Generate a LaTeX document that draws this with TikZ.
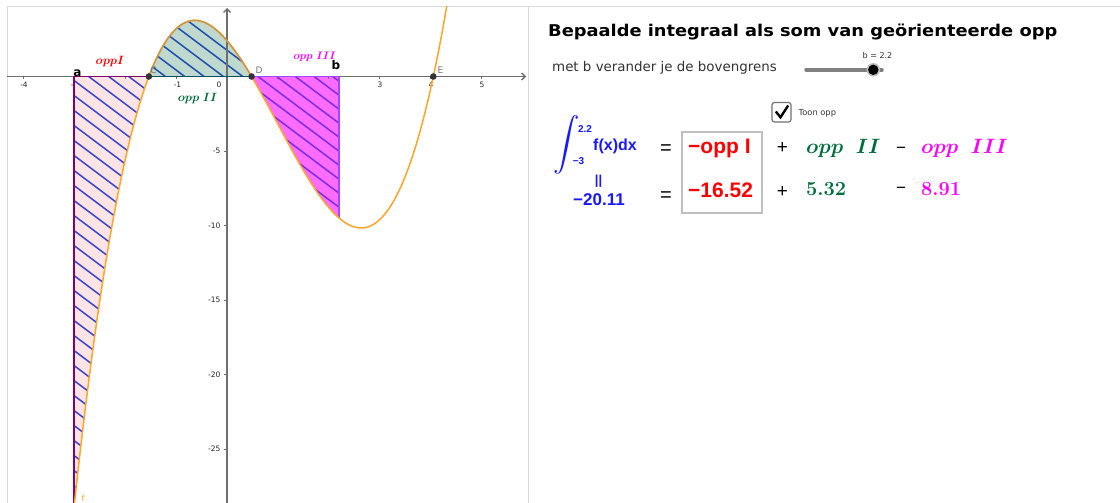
\documentclass[tikz,border=0pt]{standalone}
\usepackage{fontspec}
\usepackage{amsmath}
\usepackage{graphicx}
\newfontfamily\dejavu{DejaVu Sans}
\newfontfamily\dejavuwide[FakeStretch=1.1]{DejaVu Sans}
\newfontfamily\arialf{Liberation Sans}
\usetikzlibrary{arrows.meta}
\definecolor{curveor}{RGB}{255,165,40}
\definecolor{curvebr}{RGB}{205,150,70}
\definecolor{pinkf}{RGB}{255,228,230}
\definecolor{greenf}{RGB}{192,217,206}
\definecolor{magf}{RGB}{255,108,255}
\definecolor{hatchb}{RGB}{55,70,205}
\definecolor{hatchg}{RGB}{30,80,175}
\definecolor{hatchm}{RGB}{125,45,225}
\definecolor{bordI}{RGB}{128,0,110}
\definecolor{bordII}{RGB}{0,85,95}
\definecolor{bordIII}{RGB}{165,70,255}
\definecolor{axisg}{RGB}{110,110,110}
\definecolor{panelg}{RGB}{218,218,218}
\definecolor{ggblue}{RGB}{25,25,255}
\definecolor{ggred}{RGB}{255,0,0}
\definecolor{gggreen}{RGB}{0,110,60}
\definecolor{ggmag}{RGB}{255,0,255}
\begin{document}
\begin{tikzpicture}[x=1pt,y=-1pt,
  declare function={ff(\t)=0.8*\t*\t*\t-2.4*\t*\t-4*\t+2.4; gx(\t)=227+50.93*\t; gy(\t)=76.5-14.9*ff(\t);},
  ticklab/.style={font=\dejavu\fontsize{7.5}{8}\selectfont,text=black!85,inner sep=0pt},
  ptlab/.style={font=\dejavu\fontsize{9}{10}\selectfont,text=black!55,inner sep=0pt},
  hatchline/.style={line width=1.5pt},
  axisline/.style={axisg,line width=1.3pt},
  ptdot/.style={fill=black!80},
  lab/.style={inner sep=0pt},
  mathlab/.style={inner sep=0pt,font=\fontsize{11.5}{12}\selectfont}]
\useasboundingbox (0,0) rectangle (1120,503);
\fill[white] (0,0) rectangle (1120,503);
% panels
\draw[panelg,line width=1pt] (7,503) -- (7,7) -- (1120,7);
\draw[panelg,line width=1pt] (528,7) -- (528,503);
% tick labels
\foreach \v/\p in {-4/24,-3/74.5,-2/125.5,-1/177.5,1/278,2/329,3/380,4/431,5/482}
  \node[ticklab] at (\p,84.5) {\v};
\node[ticklab] at (219,84.5) {0};
\foreach \v in {-5,-10,-15,-20,-25}
  \node[ticklab,anchor=east] at (220.5,{76.5-14.9*\v}) {\v};
\begin{scope}
\clip (7,7) rectangle (528,503);
% region I
\fill[pinkf] plot[domain=-3:-1.5341,samples=50] ({gx(\x)},{gy(\x)}) -- ({gx(-3)},76.5) -- cycle;
\begin{scope}
\clip plot[domain=-3:-1.5341,samples=50] ({gx(\x)},{gy(\x)}) -- ({gx(-3)},76.5) -- cycle;
\foreach \k in {-500,-485,...,520} \draw[hatchb,hatchline] (0,\k) -- (560,{\k+420});
\end{scope}
% region II
\fill[greenf] plot[domain=-1.5341:0.4827,samples=50] ({gx(\x)},{gy(\x)}) -- cycle;
\begin{scope}
\clip plot[domain=-1.5341:0.4827,samples=50] ({gx(\x)},{gy(\x)}) -- cycle;
\foreach \k in {-500,-485.5,...,520} \draw[hatchg,hatchline] (0,{\k+3}) -- (560,{\k+423});
\end{scope}
% region III
\fill[magf] plot[domain=0.4827:2.2,samples=50] ({gx(\x)},{gy(\x)}) -- ({gx(2.2)},76.5) -- cycle;
\begin{scope}
\clip plot[domain=0.4827:2.2,samples=50] ({gx(\x)},{gy(\x)}) -- ({gx(2.2)},76.5) -- cycle;
\foreach \k in {-500,-486,...,520} \draw[hatchm,hatchline] (0,{\k+5}) -- (560,{\k+425});
\end{scope}
% axes
\draw[axisline,-{Straight Barb[length=3.5pt,width=7pt]}] (7,76.5) -- (526,76.5);
\draw[axisline,-{Straight Barb[length=3.5pt,width=7pt]}] (227,503) -- (227,8);
\foreach \p in {23.3,74.2,125.1,176.1,277.9,328.9,379.8,430.7,481.7}
  \draw[axisline,line width=1pt] (\p,76.5) -- (\p,79.5);
\foreach \v in {-5,-10,-15,-20,-25}
  \draw[axisline,line width=1pt] (223.5,{76.5-14.9*\v}) -- (227,{76.5-14.9*\v});
% region borders
\draw[bordI,line width=1.5pt] ({gx(-3)},{gy(-3)}) -- ({gx(-3)},76.5) -- ({gx(-1.5341)},76.5);
\draw[bordII,line width=1.5pt] ({gx(-1.5341)},76.5) -- ({gx(0.4827)},76.5);
\draw[bordIII,line width=1.5pt] ({gx(0.4827)},76.5) -- ({gx(2.2)},76.5) -- ({gx(2.2)},{gy(2.2)});
% curve f
\draw[curveor,line width=1.5pt] plot[domain=-3.02:4.4,samples=160] ({gx(\x)},{gy(\x)});
\draw[curvebr,line width=1.5pt] plot[domain=-1.5341:0.4827,samples=60] ({gx(\x)},{gy(\x)});
\end{scope}
% points
\fill[ptdot] ({gx(-1.5341)},76.5) circle (3.3) coordinate (C);
\fill[ptdot] ({gx(0.4827)},76.5) circle (3.3) coordinate (D);
\fill[ptdot] ({gx(4.0514)},76.5) circle (3.3) coordinate (E);
\node[ptlab] (Clab) at (153.5,70.5) {C};
\node[ptlab] (Dlab) at (259,70) {D};
\node[ptlab] (Elab) at (440.5,70) {E};
\node[lab,font=\dejavu\bfseries\fontsize{12}{13}\selectfont] (alab) at (77.5,73) {a};
\node[lab,font=\dejavu\bfseries\fontsize{12}{13}\selectfont] (blab) at (336,65) {b};
\node[lab,font=\dejavu\fontsize{8.5}{9}\selectfont,text=curveor] (flab) at (83,498.5) {f};
\node[mathlab,text=ggred] (oppIg) at (110,61.5) {$\boldsymbol{oppI}$};
\node[mathlab,text=gggreen] (oppIIg) at (197.5,99) {$\boldsymbol{opp\ II}$};
\node[mathlab,text=ggmag,font=\fontsize{11}{12}\selectfont] (oppIIIg) at (314.5,56.5) {$\boldsymbol{opp\ III}$};
% right panel
\node[lab,anchor=base west,font=\dejavuwide\bfseries\fontsize{16.2}{18}\selectfont] (title) at (548,37) {Bepaalde integraal als som van geörienteerde opp};
\node[lab,anchor=base west,font=\dejavu\fontsize{13.4}{15}\selectfont,text=black!80] (sub) at (552,72) {met b verander je de bovengrens};
% slider
\draw[black!50,line width=3.5pt,line cap=round] (806,69.8) -- (882,69.8);
\fill[black!25] (873.3,69.8) circle (6.8);
\fill[black] (873.3,69.8) circle (5.2) coordinate (knob);
\node[lab,font=\dejavu\fontsize{8}{9}\selectfont,text=black!80] (blabel) at (877.5,56) {b = 2.2};
% checkbox
\draw[black!55,line width=1.2pt,fill=white,rounded corners=2.5pt] (772,102.5) rectangle (791,122);
\draw[black,line width=2.4pt] (775.8,111.5) -- (780.5,117.3) -- (788.2,105.5);
\node[lab,anchor=west,font=\dejavu\fontsize{8.3}{9}\selectfont,text=black!80] (toon) at (798.5,113) {Toon opp};
% formula
\node[lab,text=ggblue] (int) at (567,145) {\resizebox{!}{36pt}{$\displaystyle\int$}};
\node[lab,text=ggblue,font=\arialf\bfseries\fontsize{10}{11}\selectfont] (up) at (585,129) {2.2};
\node[lab,text=ggblue,font=\arialf\bfseries\fontsize{10}{11}\selectfont] (lo) at (578.5,161) {−3};
\node[lab,anchor=base west,text=ggblue,font=\arialf\bfseries\fontsize{16}{18}\selectfont] (fx) at (593,150) {f(x)dx};
\node[lab,text=ggblue,font=\arialf\bfseries\fontsize{13}{14}\selectfont] (par) at (598.5,181) {||};
\node[lab,anchor=base west,text=ggblue,font=\arialf\bfseries\fontsize{17}{19}\selectfont] (tot) at (573,205) {−20.11};
\node[lab,font=\arialf\fontsize{20}{21}\selectfont] (eq1) at (666,150) {=};
\node[lab,font=\arialf\fontsize{20}{21}\selectfont] (eq2) at (666,196.5) {=};
\draw[black!25,line width=1.5pt] (682,132) rectangle (762,213);
\node[lab,anchor=base west,text=ggred,font=\arialf\bfseries\fontsize{21}{23}\selectfont] (oppI) at (688,153) {−opp I};
\node[lab,anchor=base west,text=ggred,font=\arialf\bfseries\fontsize{21}{23}\selectfont] (valI) at (688,197) {−16.52};
\node[lab,font=\arialf\fontsize{19}{20}\selectfont] (pl1) at (782.5,148) {+};
\node[lab,font=\arialf\fontsize{19}{20}\selectfont] (pl2) at (782.5,192) {+};
\node[lab,anchor=base west,text=gggreen,font=\fontsize{21}{23}\selectfont] (oppII) at (806,153) {$\boldsymbol{opp\ \ II}$};
\node[lab,anchor=base west,text=gggreen,font=\bfseries\fontsize{20}{22}\selectfont] (valII) at (806,195) {5.32};
\node[lab,font=\arialf\fontsize{17}{18}\selectfont] (mi1) at (901,150) {−};
\node[lab,font=\arialf\fontsize{17}{18}\selectfont] (mi2) at (901,190.5) {−};
\node[lab,anchor=base west,text=ggmag,font=\fontsize{21}{23}\selectfont] (oppIII) at (921,153) {$\boldsymbol{opp\ \ III}$};
\node[lab,anchor=base west,text=ggmag,font=\bfseries\fontsize{20}{22}\selectfont] (valIII) at (921,195) {8.91};
\end{tikzpicture}
\end{document}
